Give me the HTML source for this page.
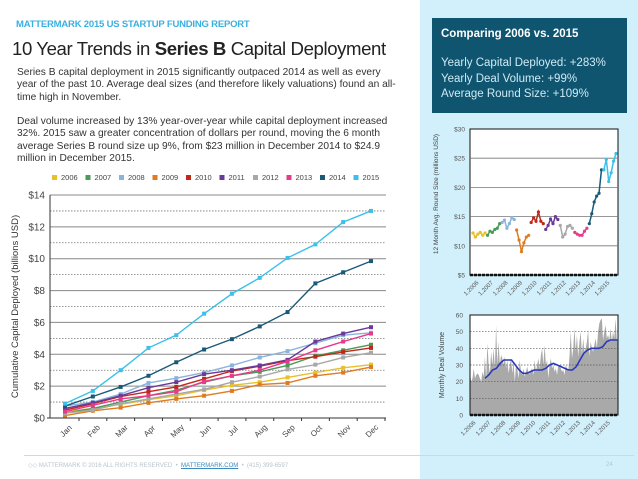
<!DOCTYPE html>
<html><head><meta charset="utf-8"><style>
body{margin:0;width:638px;height:479px;overflow:hidden;background:#fff;font-family:"Liberation Sans",sans-serif;position:relative}
.abs{position:absolute}
</style></head><body>
<div class="abs" style="left:420px;top:0;width:218px;height:479px;background:#d2f0fb"></div>
<div class="abs" style="left:16px;top:19px;font-size:9.5px;font-weight:bold;color:#3ab0e0;letter-spacing:-0.2px">MATTERMARK 2015 US STARTUP FUNDING REPORT</div>
<div class="abs" style="left:12px;top:38px;font-size:18.6px;color:#222;letter-spacing:-0.4px">10 Year Trends in <b>Series B</b> Capital Deployment</div>
<div class="abs" style="left:17px;top:67px;width:380px;font-size:10.2px;line-height:12.3px;color:#333">Series B capital deployment in 2015 significantly outpaced 2014 as well as every year of the past 10. Average deal sizes (and therefore likely valuations) found an all-time high in November.<br><br>Deal volume increased by 13% year-over-year while capital deployment increased 32%. 2015 saw a greater concentration of dollars per round, moving the 6 month average Series B round size up 9%, from $23 million in December 2014 to $24.9 million in December 2015.</div>
<div class="abs" style="left:432px;top:18px;width:195px;height:95px;background:#0f5570;color:#fff">
<div style="position:absolute;left:9px;top:10px;font-size:11.5px;font-weight:bold">Comparing 2006 vs. 2015</div>
<div style="position:absolute;left:9px;top:38px;font-size:11.5px;line-height:15.5px;color:#cfeaf5">Yearly Capital Deployed: +283%<br>Yearly Deal Volume: +99%<br>Average Round Size: +109%</div>
</div>
<div class="abs" style="left:24px;top:455px;width:610px;height:1px;background:#c8dbe2"></div>
<div class="abs" style="left:28px;top:462px;font-size:6px;color:#b8c4cc;white-space:nowrap">◇◇ MATTERMARK © 2016 ALL RIGHTS RESERVED &nbsp;•&nbsp; <span style="color:#3a8ac0;text-decoration:underline">MATTERMARK.COM</span> &nbsp;•&nbsp; (415) 399-6597</div>
<div class="abs" style="left:606px;top:462px;font-size:6px;color:#b8c4cc">24</div>
<svg class="abs" style="left:0;top:0" width="638" height="479" id="svg"></svg>
<script>
const months=["Jan","Feb","Mar","Apr","May","Jun","Jul","Aug","Sep","Oct","Nov","Dec"];
const years=["2006","2007","2008","2009","2010","2011","2012","2013","2014","2015"];
const colors=["#e8c02a","#4a9a5a","#8ab4dc","#e07b20","#c0281a","#6a3a9a","#a8a8a8","#e83a8a","#1a5a78","#3ac0ea"];
const y2006=[0.4,0.6,0.85,1.15,1.4,1.75,2.05,2.25,2.55,2.85,3.15,3.35];
const y2007=[0.3,0.6,1.0,1.4,1.75,2.25,2.65,2.9,3.3,3.9,4.25,4.6];
const y2008=[0.75,1.0,1.5,2.2,2.5,2.85,3.3,3.8,4.2,4.7,5.2,5.35];
const y2009=[0.15,0.45,0.65,0.95,1.2,1.4,1.7,2.1,2.2,2.65,2.85,3.2];
const y2010=[0.5,0.9,1.35,1.65,1.95,2.45,2.95,3.25,3.6,3.85,4.15,4.4];
const y2011=[0.6,0.95,1.4,1.9,2.25,2.75,3.0,3.3,3.65,4.8,5.3,5.7];
const y2012=[0.3,0.5,0.9,1.2,1.5,1.8,2.25,2.6,3.05,3.35,3.8,4.1];
const y2013=[0.4,0.8,1.2,1.4,1.65,2.3,2.65,3.0,3.55,4.25,4.8,5.3];
const y2014=[0.75,1.35,1.95,2.65,3.5,4.3,4.95,5.75,6.65,8.45,9.15,9.85];
const y2015=[0.9,1.7,3.0,4.4,5.2,6.55,7.8,8.8,10.05,10.9,12.3,13.0];
const series=[y2006,y2007,y2008,y2009,y2010,y2011,y2012,y2013,y2014,y2015];
const yTicks=["$0","$2","$4","$6","$8","$10","$12","$14"];
const r2006=[12.2,11.5,12.0,12.3,11.8,12.2];
const r2007=[11.8,12.5,12.3,12.8,13.0,13.8];
const r2008=[14.0,14.4,13.0,13.8,14.8,14.5];
const r2009=[12.7,11.0,9.0,10.5,11.5,11.8];
const r2010=[14.0,14.8,14.2,15.8,14.2,13.8];
const r2011=[12.8,13.5,14.6,13.8,15.0,14.5];
const r2012=[13.5,11.5,12.0,13.3,13.5,13.0];
const r2013=[12.3,12.0,11.8,11.8,12.5,13.0];
const r2014=[13.8,15.5,17.5,18.5,19.0,23.0];
const r2015=[23.0,24.8,21.0,22.5,24.5,25.8];
const rounds=[r2006,r2007,r2008,r2009,r2010,r2011,r2012,r2013,r2014,r2015];
const roundTicks=["$5","$10","$15","$20","$25","$30"];
const volume=[25,20,22,28,22,24,25,24,22,20,26,23, 35,22,43,30,25,38,30,40,28,54,30,44, 30,36,34,30,35,28,33,25,30,34,25,32, 20,30,28,22,33,26,24,28,23,26,29,25, 25,27,28,24,33,26,30,34,28,36,40,30, 42,30,33,22,30,34,28,30,26,28,24,30, 30,28,26,27,24,30,28,26,35,50,34,40, 52,38,48,35,44,50,36,46,38,40,44,51, 35,44,40,38,42,46,40,50,55,57,58,45, 50,54,46,48,45,52,44,50,46,58,45,46];
const volAvg=[22,24,27,28,31,33,33,33,30,27,25,25,26,27,27,27,28,30,31,30,29,28,27,27,29,33,37,39,40,40,40,41,44,45,45,45];
const volTicks=["0","10","20","30","40","50","60"];
const yearLabels=["1,2006","1,2007","1,2008","1,2009","1,2010","1,2011","1,2012","1,2013","1,2014","1,2015"];

const S=document.getElementById('svg');const NS="http://www.w3.org/2000/svg";
function el(t,a,txt){const e=document.createElementNS(NS,t);for(const k in a)e.setAttribute(k,a[k]);if(txt!==undefined)e.textContent=txt;S.appendChild(e);return e;}
const L=50,R=386,T=195,B=418;
const xm=i=>65+i*(371-65)/11, ym=v=>B-v*(B-T)/14;
for(let v=1;v<=14;v++){const g=el('line',{x1:L,x2:R,y1:ym(v),y2:ym(v),stroke:v%2?'#777':'#888','stroke-width':v%2?0.8:1,'stroke-dasharray':v%2?'1.5,1.5':''});

}
el('line',{x1:L,x2:L,y1:T,y2:B,stroke:'#333','stroke-width':1});
el('line',{x1:L,x2:R,y1:B,y2:B,stroke:'#333','stroke-width':1});
yTicks.forEach((t,i)=>{const e=el('text',{x:L-5,y:ym(i*2)+3.5,'text-anchor':'end','font-size':10,fill:'#444'},t);

});
months.forEach((m,i)=>{const x=xm(i);el('line',{x1:x+14,x2:x+14,y1:B,y2:B+3,stroke:'#333'});const e=el('text',{x:x,y:B+16,'text-anchor':'middle','font-size':8,fill:'#444',transform:`rotate(-45 ${x} ${B+12})`},m);

});
el('line',{x1:L-3,x2:L,y1:B,y2:B,stroke:'#333'});
const yt=el('text',{x:0,y:0,'text-anchor':'middle','font-size':9.5,fill:'#333',transform:`translate(18 ${(T+B)/2}) rotate(-90)`},'Cumulative Capital Deployed (billions USD)');


series.forEach((s,k)=>{const pts=s.map((v,i)=>xm(i)+','+ym(v)).join(' ');
const p=el('polyline',{points:pts,fill:'none',stroke:colors[k],'stroke-width':1.4});


s.forEach((v,i)=>{const r=el('rect',{x:xm(i)-2,y:ym(v)-2,width:4,height:4,fill:colors[k]});

});});
years.forEach((y,k)=>{const x=52+k*33.5;const r=el('rect',{x:x,y:175,width:5,height:5,fill:colors[k]});


const t=el('text',{x:x+9,y:180,'font-size':7.5,fill:'#444'},y);

});
const L2=470,R2=618,T2=129,B2=275;
const y2=v=>B2-(v-5)*(B2-T2)/25;
el('rect',{x:L2,y:T2,width:R2-L2,height:B2-T2,fill:'#fff',stroke:'#111','stroke-width':1});
roundTicks.forEach((t,i)=>{const v=5+i*5;if(i>0&&i<5)el('line',{x1:L2,x2:R2,y1:y2(v),y2:y2(v),stroke:'#777','stroke-width':0.8});
const e=el('text',{x:L2-5,y:y2(v)+2.5,'text-anchor':'end','font-size':6.5,fill:'#555'},t);

});
el('line',{x1:L2,x2:R2,y1:B2,y2:B2,stroke:'#111','stroke-width':2.5,'stroke-dasharray':'3,1'});
const xr=(k,i)=>L2+3+(k*6+i)*(R2-L2-5)/59;
rounds.forEach((s,k)=>{const pts=s.map((v,i)=>xr(k,i)+','+y2(v)).join(' ');
const p=el('polyline',{points:pts,fill:'none',stroke:colors[k],'stroke-width':1.5});


s.forEach((v,i)=>el('circle',{cx:xr(k,i),cy:y2(v),r:1.6,fill:colors[k]}));});
const yt2=el('text',{x:0,y:0,'text-anchor':'middle','font-size':6.5,fill:'#444',transform:`translate(438 ${(T2+B2)/2-8}) rotate(-90)`},'12 Month Avg. Round Size (millions USD)');


const L3=470,R3=618,T3=315,B3=415;
const y3=v=>B3-v*(B3-T3)/60, xv=i=>L3+i*(R3-L3)/(volume.length-1);
el('rect',{x:L3,y:T3,width:R3-L3,height:B3-T3,fill:'#fff'});
let ap=`M${L3},${B3} `+volume.map((v,i)=>`L${xv(i)},${y3(v)}`).join(' ')+` L${R3},${B3} Z`;
const ar=el('path',{d:ap,fill:'#a9a9a9'});


volTicks.forEach((t,i)=>{const v=i*10;if(i>0&&i<6)el('line',{x1:L3,x2:R3,y1:y3(v),y2:y3(v),stroke:'#555','stroke-width':0.7,'stroke-dasharray':'1.5,1.5'});
const e=el('text',{x:L3-7,y:y3(v)+2.5,'text-anchor':'end','font-size':6.5,fill:'#555'},t);

});
el('rect',{x:L3,y:T3,width:R3-L3,height:B3-T3,fill:'none',stroke:'#111','stroke-width':1});
el('line',{x1:L3,x2:R3,y1:B3,y2:B3,stroke:'#111','stroke-width':2.5,'stroke-dasharray':'3,1'});
const xa=i=>xv(12+i*(volume.length-13)/(volAvg.length-1));
const ml=el('polyline',{points:volAvg.map((v,i)=>xa(i)+','+y3(v)).join(' '),fill:'none',stroke:'#2a3ab8','stroke-width':1.6});


const yt3=el('text',{x:0,y:0,'text-anchor':'middle','font-size':7,fill:'#444',transform:`translate(444 ${(T3+B3)/2}) rotate(-90)`},'Monthly Deal Volume');


yearLabels.forEach((t,k)=>{[[B2,xr(k,0)],[B3,xv(k*12)]].forEach(([b,x])=>{const e=el('text',{x:x+6,y:b+8,'text-anchor':'end','font-size':6,fill:'#555',transform:`rotate(-45 ${x+6} ${b+8})`},t);

});});
</script>
</body></html>
